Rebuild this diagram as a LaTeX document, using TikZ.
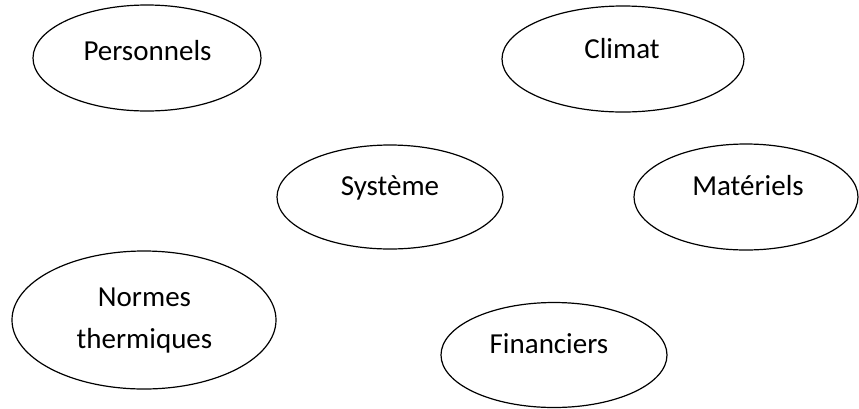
\documentclass[tikz,border=0pt]{standalone}
\usepackage{fontspec}
\setmainfont{Carlito}
\usetikzlibrary{shapes.geometric}
\tikzset{
  oval/.style={ellipse, draw=black, line width=1.2pt, inner sep=0pt},
  lbl/.style={font=\fontsize{29}{42}\selectfont, anchor=base, inner sep=0pt, align=center}
}
\begin{document}
\begin{tikzpicture}[x=1pt,y=-1pt]
\useasboundingbox (0,0) rectangle (859,408);
\node[oval, minimum width=228pt, minimum height=106pt] (pers) at (147,58) {};
\node[oval, minimum width=242pt, minimum height=106pt] (clim) at (623,59) {};
\node[oval, minimum width=226pt, minimum height=104pt] (syst) at (390,197) {};
\node[oval, minimum width=224pt, minimum height=106pt] (mat) at (746,197) {};
\node[oval, minimum width=264pt, minimum height=138pt] (norm) at (144,320) {};
\node[oval, minimum width=226pt, minimum height=105pt] (fin) at (554,355) {};
\node[lbl] (tpers) at (147.5,60) {Personnels};
\node[lbl] (tclim) at (622,58) {Climat};
\node[lbl] (tsyst) at (390,195) {Système};
\node[lbl] (tmat) at (748,195) {Matériels};
\node[lbl] (tnorm1) at (144.5,306) {Normes};
\node[lbl] (tnorm2) at (144.5,348) {thermiques};
\node[lbl] (tfin) at (549,353) {Financiers};
\end{tikzpicture}
\end{document}
